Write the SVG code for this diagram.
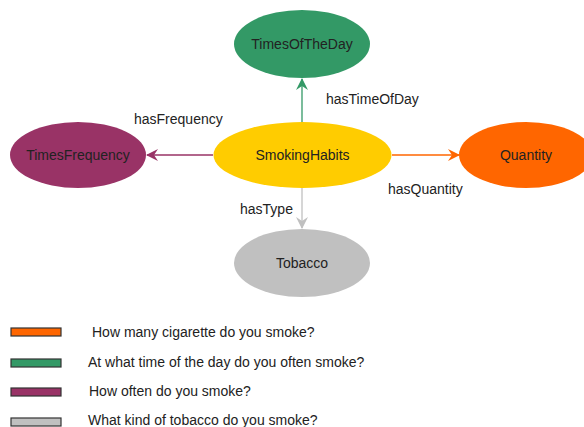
<svg xmlns="http://www.w3.org/2000/svg" width="584" height="427" viewBox="0 0 584 427">
<style>
text{font-family:"Liberation Sans",Arial,sans-serif;font-size:14px;fill:#222}
.n{text-anchor:middle}
.e{fill:none;stroke-width:1.3}
.lg{stroke:#333;stroke-width:1.2}
</style>
<defs>
<marker id="ag" viewBox="0 0 12 12" refX="11" refY="6" markerWidth="12" markerHeight="12" markerUnits="userSpaceOnUse" orient="auto"><path d="M0,0 L12,6 L0,12 L4,6 Z" fill="#339966"/></marker>
<marker id="ap" viewBox="0 0 12 12" refX="11" refY="6" markerWidth="12" markerHeight="12" markerUnits="userSpaceOnUse" orient="auto"><path d="M0,0 L12,6 L0,12 L4,6 Z" fill="#993366"/></marker>
<marker id="ao" viewBox="0 0 12 12" refX="11" refY="6" markerWidth="12" markerHeight="12" markerUnits="userSpaceOnUse" orient="auto"><path d="M0,0 L12,6 L0,12 L4,6 Z" fill="#ff6600"/></marker>
<marker id="ay" viewBox="0 0 12 12" refX="11" refY="6" markerWidth="12" markerHeight="12" markerUnits="userSpaceOnUse" orient="auto"><path d="M0,0 L12,6 L0,12 L4,6 Z" fill="#c0c0c0"/></marker>
</defs>
<rect width="584" height="427" fill="#fff"/>
<g id="connectors">
<line class="e" x1="302" y1="122" x2="302" y2="79" stroke="#339966" marker-end="url(#ag)"/>
<line class="e" x1="213" y1="155" x2="147" y2="155" stroke="#993366" marker-end="url(#ap)"/>
<line class="e" x1="392" y1="155" x2="459" y2="155" stroke="#ff6600" marker-end="url(#ao)"/>
<line class="e" x1="302" y1="188" x2="302" y2="228" stroke="#c0c0c0" marker-end="url(#ay)"/>
<text x="326" y="104">hasTimeOfDay</text>
<text x="134" y="124">hasFrequency</text>
<text x="388" y="194">hasQuantity</text>
<text x="240" y="214">hasType</text>
</g>
<g id="TimesOfTheDay"><ellipse cx="302" cy="44" rx="68" ry="34" fill="#339966"/><text class="n" x="302" y="49">TimesOfTheDay</text></g>
<g id="SmokingHabits"><ellipse cx="302.5" cy="155" rx="89" ry="33" fill="#ffcc00"/><text class="n" x="302.5" y="160">SmokingHabits</text></g>
<g id="TimesFrequency"><ellipse cx="78" cy="155" rx="68" ry="33" fill="#993366"/><text class="n" x="78" y="160">TimesFrequency</text></g>
<g id="Quantity"><ellipse cx="526" cy="155" rx="67" ry="33" fill="#ff6600"/><text class="n" x="526" y="160">Quantity</text></g>
<g id="Tobacco"><ellipse cx="302" cy="263" rx="68" ry="34" fill="#c0c0c0"/><text class="n" x="302" y="268">Tobacco</text></g>
<g id="legend">
<rect class="lg" x="11" y="328" width="50" height="8" fill="#ff6600"/>
<text x="92" y="337">How many cigarette do you smoke?</text>
<rect class="lg" x="11" y="359" width="50" height="8" fill="#339966"/>
<text x="88" y="367">At what time of the day do you often smoke?</text>
<rect class="lg" x="11" y="388" width="50" height="8" fill="#993366"/>
<text x="89" y="396">How often do you smoke?</text>
<rect class="lg" x="11" y="418" width="50" height="8" fill="#c0c0c0"/>
<text x="88" y="425">What kind of tobacco do you smoke?</text>
</g>
</svg>
